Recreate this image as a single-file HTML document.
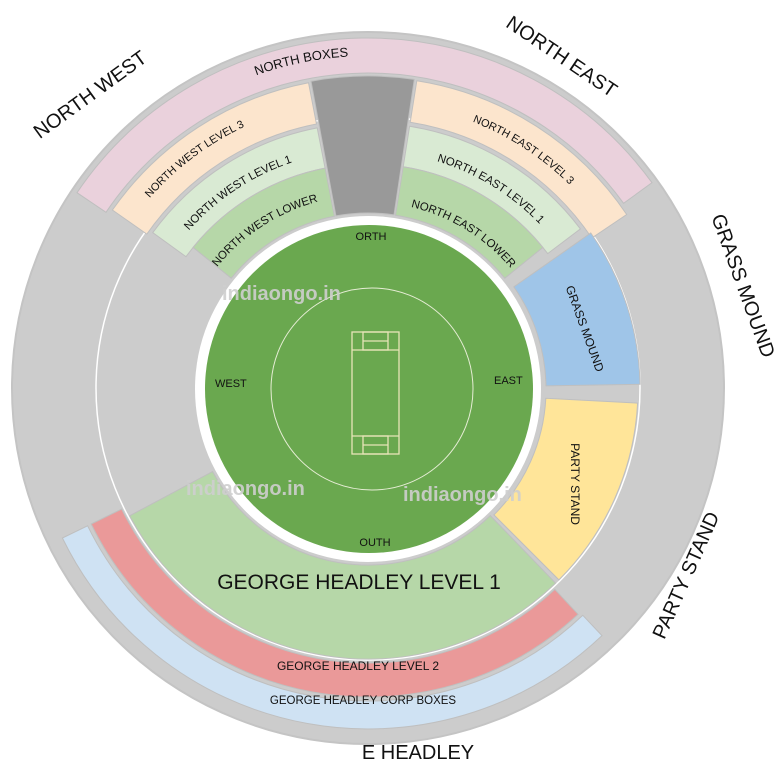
<!DOCTYPE html>
<html><head><meta charset="utf-8"><style>
html,body{margin:0;padding:0;background:#fff;}
svg{display:block;font-family:"Liberation Sans",Arial,sans-serif;}
</style></head><body>
<svg id="s" width="781" height="775" viewBox="0 0 781 775" xmlns="http://www.w3.org/2000/svg">
<circle cx="368" cy="388" r="356" fill="#cccccc" stroke="#c4c4c4" stroke-width="2"/>
<circle cx="368" cy="388" r="272" fill="none" stroke="#ffffff" stroke-width="1.5"/>
<g id="sec"></g>
<circle cx="368" cy="389" r="173" fill="#ffffff"/>
<circle cx="369" cy="389" r="164" fill="#6aa84f"/>
<circle cx="372" cy="389" r="101" fill="none" stroke="#e6edd5" stroke-width="1"/>
<g fill="none" stroke="#e8e4b8" stroke-width="1.3">
<rect x="352" y="332" width="47" height="122"/>
<line x1="352" y1="350" x2="399" y2="350"/>
<line x1="352" y1="436" x2="399" y2="436"/>
<rect x="363" y="332" width="25" height="18"/>
<rect x="363" y="436" width="25" height="18"/>
<line x1="363" y1="341" x2="388" y2="341"/>
<line x1="363" y1="445" x2="388" y2="445"/>
</g>
<g font-size="11" fill="#111">
<text x="371" y="240" text-anchor="middle">ORTH</text>
<text x="375" y="546" text-anchor="middle">OUTH</text>
<text x="215" y="387">WEST</text>
<text x="494" y="384">EAST</text>
</g>
<g id="lab" fill="#111"></g>
<g font-size="12" fill="#111" text-anchor="middle">
<text transform="translate(581,330) rotate(70)">GRASS MOUND</text>
<text transform="translate(571,484) rotate(90)">PARTY STAND</text>
<text x="358" y="670">GEORGE HEADLEY LEVEL 2</text>
<text x="363" y="704" font-size="11.5">GEORGE HEADLEY CORP BOXES</text>
</g>
<text x="359" y="589" font-size="21" text-anchor="middle" fill="#111">GEORGE HEADLEY LEVEL 1</text>
<g font-size="20" fill="#111" text-anchor="middle">
<text transform="translate(94,100) rotate(-36)">NORTH WEST</text>
<text transform="translate(558,62) rotate(34)">NORTH EAST</text>
<text transform="translate(737,288) rotate(70)">GRASS MOUND</text>
<text transform="translate(692,578) rotate(-66)">PARTY STAND</text>
<text x="418" y="759">E HEADLEY</text>
</g>
<g font-size="20" font-weight="bold" fill="#cfcfcf" opacity="0.9">
<text x="222" y="300">indiaongo.in</text>
<text x="186" y="495">indiaongo.in</text>
<text x="403" y="501">indiaongo.in</text>
</g>
</svg>
<script>
var cx=368,cy=389,NS="http://www.w3.org/2000/svg";
function pt(r,a){var t=a*Math.PI/180;return [(cx+r*Math.sin(t)).toFixed(1),(cy-r*Math.cos(t)).toFixed(1)];}
function sec(r1,r2,a1,a2,col,stroke){
 var l=(a2-a1)>180?1:0,p1=pt(r2,a1),p2=pt(r2,a2),p3=pt(r1,a2),p4=pt(r1,a1);
 var d="M"+p1+" A"+r2+" "+r2+" 0 "+l+" 1 "+p2+" L"+p3+" A"+r1+" "+r1+" 0 "+l+" 0 "+p4+" Z";
 var e=document.createElementNS(NS,"path");e.setAttribute("d",d);e.setAttribute("fill",col);
 e.setAttribute("stroke",stroke||"#bfbfbf");e.setAttribute("stroke-width","1");
 document.getElementById("sec").appendChild(e);}
var n=0;
function arcText(r,a1,a2,txt,fs){
 var id="p"+(n++),p1=pt(r,a1),p2=pt(r,a2);
 var e=document.createElementNS(NS,"path");e.setAttribute("id",id);e.setAttribute("fill","none");
 e.setAttribute("d","M"+p1+" A"+r+" "+r+" 0 0 1 "+p2);
 var g=document.getElementById("lab");g.appendChild(e);
 var t=document.createElementNS(NS,"text");t.setAttribute("font-size",fs);
 var tp=document.createElementNS(NS,"textPath");tp.setAttribute("href","#"+id);
 tp.setAttribute("startOffset","50%");tp.setAttribute("text-anchor","middle");tp.textContent=txt;
 t.appendChild(tp);g.appendChild(t);}
sec(316,351,-56,54,"#ead1dc");
sec(270,312,-55,-11,"#fce5cd");
sec(270,312,9,56,"#fce5cd");
sec(176,313,-10.5,8.5,"#999999");
sec(225,266,-54,-11,"#d9ead3");
sec(176,225,-51,-11,"#b6d7a8");
sec(225,266,9,53,"#d9ead3");
sec(176,225,9,51,"#b6d7a8");
sec(178,272,55,89,"#9fc5e8");
sec(178,270,93,135,"#ffe599");
sec(176,270,136,242,"#b6d7a8");
sec(274,308,137,244,"#ea9999");
sec(312,340,136.5,244,"#cfe2f3");
arcText(333,-31,8,"NORTH BOXES",13);
arcText(290,-57,-17,"NORTH WEST LEVEL 3",11);
arcText(239,-54,-13,"NORTH WEST LEVEL 1",11.5);
arcText(194,-54,-12,"NORTH WEST LOWER",11.5);
arcText(287,13,53,"NORTH EAST LEVEL 3",11);
arcText(238,10,53,"NORTH EAST LEVEL 1",11.5);
arcText(187,10,53,"NORTH EAST LOWER",11.5);
</script>
</body></html>
